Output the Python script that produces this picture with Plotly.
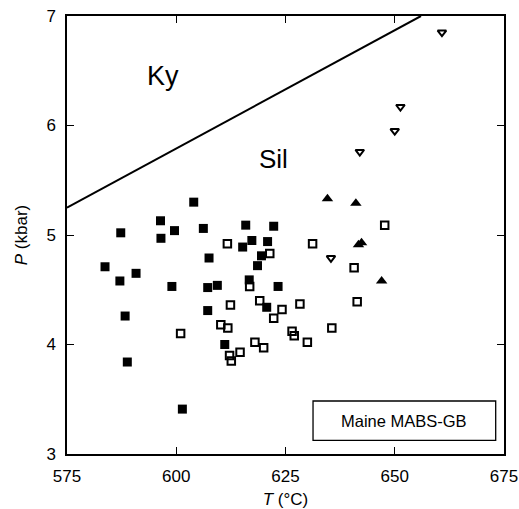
import plotly.graph_objects as go

# Filled squares
fsq_T = [604.0, 587.3, 596.4, 599.6, 606.2, 596.5, 607.5, 583.7, 590.8, 587.1, 599.0, 607.2,
         607.2, 588.3, 588.8, 601.4, 615.9, 622.3, 617.3, 615.2, 620.9, 619.5, 618.6, 609.4,
         616.7, 623.3, 620.7, 611.1]
fsq_P = [5.30, 5.02, 5.13, 5.04, 5.06, 4.97, 4.79, 4.71, 4.65, 4.58, 4.53, 4.52,
         4.31, 4.26, 3.84, 3.41, 5.09, 5.08, 4.95, 4.89, 4.94, 4.81, 4.72, 4.54,
         4.59, 4.53, 4.34, 4.00]

# Open squares
osq_T = [601.0, 611.7, 631.2, 621.4, 616.8, 619.1, 628.3, 612.4, 624.2, 622.3, 610.2, 611.8,
         635.6, 626.5, 627.0, 630.0, 618.0, 620.0, 614.6, 612.2, 612.6, 647.7, 640.7, 641.4]
osq_P = [4.10, 4.92, 4.92, 4.83, 4.53, 4.40, 4.37, 4.36, 4.32, 4.24, 4.18, 4.15,
         4.15, 4.12, 4.08, 4.02, 4.02, 3.97, 3.93, 3.90, 3.85, 5.09, 4.70, 4.39]

# Filled triangles (up)
ftri_T = [634.6, 641.1, 641.7, 642.4, 647.0]
ftri_P = [5.33, 5.29, 4.91, 4.93, 4.58]

# Open triangles (down)
otri_T = [635.4, 642.0, 650.0, 651.3, 660.8]
otri_P = [4.79, 5.76, 5.95, 6.17, 6.85]

# Ky-Sil boundary
line_T = [575, 656]
line_P = [5.25, 7.0]

x_ticks = [575, 600, 625, 650, 675]
y_ticks = [3, 4, 5, 6, 7]

FONT = "Liberation Sans, Arial, sans-serif"

fig = go.Figure()
fig.add_trace(go.Scatter(x=line_T, y=line_P, mode="lines",
                         line=dict(color="black", width=2), showlegend=False))
fig.add_trace(go.Scatter(x=fsq_T, y=fsq_P, mode="markers", showlegend=False,
                         marker=dict(symbol="square", size=9, color="black",
                                     line=dict(width=0))))
fig.add_trace(go.Scatter(x=osq_T, y=osq_P, mode="markers", showlegend=False,
                         marker=dict(symbol="square-open", size=7.5, color="black",
                                     line=dict(width=2, color="black"))))
fig.add_trace(go.Scatter(x=ftri_T, y=ftri_P, mode="markers", showlegend=False,
                         marker=dict(symbol="triangle-up", size=10, color="black",
                                     line=dict(width=0))))
fig.add_trace(go.Scatter(x=otri_T, y=otri_P, mode="markers", showlegend=False,
                         marker=dict(symbol="triangle-down-open", size=7.5, color="black",
                                     line=dict(width=2, color="black"))))

fig.add_annotation(x=597.0, y=6.45, xref="x", yref="y", text="Ky", showarrow=False,
                   xanchor="center", yanchor="middle",
                   font=dict(family=FONT, size=27, color="black"))
fig.add_annotation(x=622.3, y=5.69, xref="x", yref="y", text="Sil", showarrow=False,
                   xanchor="center", yanchor="middle",
                   font=dict(family=FONT, size=26, color="black"))

fig.add_shape(type="rect", xref="paper", yref="paper", x0=0.563, x1=0.981, y0=0.031, y1=0.121,
              line=dict(color="black", width=1.3), fillcolor="white")
fig.add_annotation(x=0.772, y=0.076, xref="paper", yref="paper", text="Maine MABS-GB",
                   showarrow=False, xanchor="center", yanchor="middle",
                   font=dict(family=FONT, size=16.5, color="black"))

axis_common = dict(showgrid=False, zeroline=False, showline=True, linecolor="black",
                   linewidth=1.5, mirror="ticks", ticks="inside", ticklen=7, tickwidth=1,
                   tickcolor="black", automargin=False,
                   tickfont=dict(family=FONT, size=17, color="black"))

fig.update_xaxes(range=[575, 675], tickvals=x_ticks, ticktext=[str(v) for v in x_ticks],
                 title=dict(text="<i>T</i> (°C)", font=dict(family=FONT, size=17, color="black"),
                            standoff=12),
                 ticklabelstandoff=6, **axis_common)
fig.update_yaxes(range=[3, 7], tickvals=y_ticks, ticktext=[str(v) for v in y_ticks],
                 title=dict(text="<i>P</i> (kbar)", font=dict(family=FONT, size=17, color="black"),
                            standoff=14),
                 ticklabelstandoff=6, **axis_common)

fig.update_layout(width=519, height=509, margin=dict(l=67, r=15, t=16, b=55),
                  plot_bgcolor="white", paper_bgcolor="white")

fig.write_html("out.html")
